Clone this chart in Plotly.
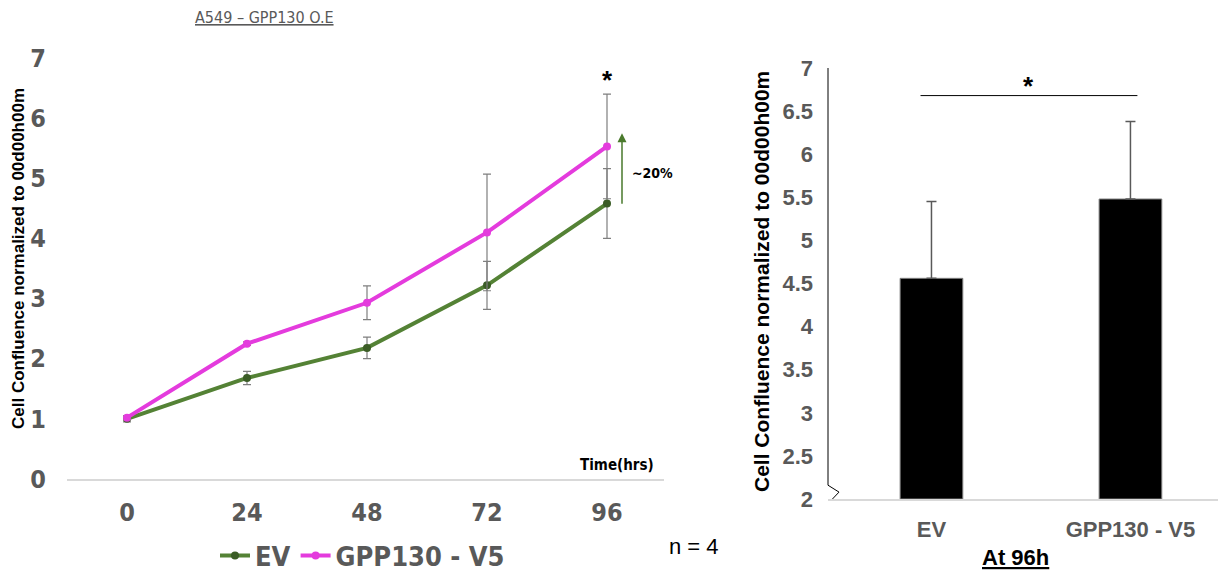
import plotly.graph_objects as go

# ---- data ----
hours = [0, 24, 48, 72, 96]
ev_vals = [1.0, 1.68, 2.18, 3.22, 4.58]
ev_err = [0.05, 0.11, 0.18, 0.40, 0.58]
gpp_vals = [1.02, 2.25, 2.93, 4.10, 5.53]
gpp_err = [0.03, 0.03, 0.28, 0.97, 0.87]

bar_cats = ["EV", "GPP130 - V5"]
bar_pos = [0, 1]
bar_vals = [4.56, 5.48]
bar_err = [0.89, 0.90]

left_ticks = [0, 1, 2, 3, 4, 5, 6, 7]
right_ticks = [2, 2.5, 3, 3.5, 4, 4.5, 5, 5.5, 6, 6.5, 7]

W, H = 1218, 575
NARROW = "Liberation Sans Narrow, Arial Narrow, DejaVu Sans Condensed, sans-serif"
ARIAL = "Liberation Sans, Arial, sans-serif"
GRAY = "#595959"
GREEN = "#548235"
GREEN_DK = "#3b5d26"
MAGENTA = "#E43BDD"

def px(x):
    return x / W

def py(y):
    return 1 - y / H

def b(s):
    return "<b>%s</b>" % s

fig = go.Figure()

fig.add_trace(go.Scatter(
    x=hours, y=ev_vals, name=b("EV"), mode="lines+markers",
    line=dict(color=GREEN, width=4),
    marker=dict(color=GREEN_DK, size=8),
    error_y=dict(type="data", array=ev_err, color="#7f7f7f", thickness=1.2, width=4),
    xaxis="x", yaxis="y",
))
fig.add_trace(go.Scatter(
    x=hours, y=gpp_vals, name=b("GPP130 - V5"), mode="lines+markers",
    line=dict(color=MAGENTA, width=4),
    marker=dict(color=MAGENTA, size=8),
    error_y=dict(type="data", array=gpp_err, color="#7f7f7f", thickness=1.2, width=4),
    xaxis="x", yaxis="y",
))

fig.add_trace(go.Bar(
    x=bar_pos, y=[v - 2 for v in bar_vals], base=2, width=0.315,
    marker=dict(color="black", line=dict(color="#7f7f7f", width=1)),
    error_y=dict(type="data", symmetric=False, array=bar_err, arrayminus=[0, 0],
                 color=GRAY, thickness=1.5, width=5),
    showlegend=False, xaxis="x2", yaxis="y2",
))

fig.update_layout(
    width=W, height=H,
    margin=dict(l=0, r=0, t=0, b=0, autoexpand=False),
    paper_bgcolor="white", plot_bgcolor="white",
    showlegend=True,
    legend=dict(
        orientation="h", x=px(215), y=py(556), xanchor="left", yanchor="middle",
        xref="container", yref="container",
        font=dict(family=NARROW, size=27, color=GRAY),
        itemwidth=30, tracegroupgap=0, bgcolor="rgba(0,0,0,0)",
    ),
    xaxis=dict(
        domain=[px(67), px(664)], range=[-12, 107.4],
        tickvals=hours, ticktext=[b(h) for h in hours],
        showgrid=False, zeroline=False, showline=True, linecolor="#d9d9d9", linewidth=1.5,
        ticks="", ticklabelstandoff=10, automargin=False,
        tickfont=dict(family=NARROW, size=25, color=GRAY),
        anchor="y",
    ),
    yaxis=dict(
        domain=[py(479), py(58)], range=[0, 7],
        tickvals=left_ticks, ticktext=[b(t) for t in left_ticks],
        showgrid=False, zeroline=False, showline=False,
        ticks="", ticklabelstandoff=20, automargin=False,
        tickfont=dict(family=NARROW, size=25, color=GRAY),
        anchor="x",
    ),
    xaxis2=dict(
        domain=[px(828), 1.0], range=[-0.52, 1.44],
        tickvals=bar_pos, ticktext=[b(c) for c in bar_cats],
        showgrid=False, zeroline=False, showline=True, linecolor="#d9d9d9", linewidth=1.5,
        ticks="", ticklabelstandoff=10, automargin=False,
        tickfont=dict(family=ARIAL, size=22, color=GRAY),
        anchor="y2",
    ),
    yaxis2=dict(
        domain=[py(499), py(68)], range=[2, 7],
        tickvals=right_ticks, ticktext=[b("%g" % t) for t in right_ticks],
        showgrid=False, zeroline=False, showline=False,
        ticks="", ticklabelstandoff=14, automargin=False,
        tickfont=dict(family=ARIAL, size=22, color=GRAY),
        anchor="x2",
    ),
)

# right y axis line with break
fig.add_shape(type="line", xref="x2 domain", yref="y2", x0=0, x1=0, y0=2.16, y1=7.05,
              line=dict(color="black", width=1))
fig.add_shape(type="path", xref="x2", yref="y2", xsizemode="pixel", xanchor=-0.52,
              path="M 0,2.16 L 11,2.08 L 2,1.97", line=dict(color="black", width=1))

# significance bar on right
fig.add_shape(type="line", xref="x2", yref="y2", x0=-0.055, x1=1.035, y0=6.68, y1=6.68,
              line=dict(color="black", width=1))

def ann(text, x, y, size, family=ARIAL, color="black", angle=0, xanchor="center"):
    return dict(text=text, x=px(x), y=py(y), xref="paper", yref="paper",
                xanchor=xanchor, yanchor="middle", textangle=angle, showarrow=False,
                font=dict(family=family, size=size, color=color))

annotations = [
    ann("<u>A549 – GPP130 O.E</u>", 264, 18, 16, family=NARROW, color=GRAY),
    ann(b("Cell Confluence normalized to 00d00h00m"), 18, 259, 17, angle=-90),
    ann(b("Cell Confluence normalized to 00d00h00m"), 761, 282, 21, angle=-90),
    ann(b("Time(hrs)"), 617, 465, 15, family=NARROW),
    ann("n = 4", 694, 546, 22),
    ann(b("<u>At 96h</u>"), 1015, 557, 22),
    dict(text=b("*"), x=96, y=6.64, xref="x", yref="y", showarrow=False,
         xanchor="center", yanchor="middle",
         font=dict(family=ARIAL, size=26, color="black")),
    dict(text=b("*"), x=0.49, y=6.79, xref="x2", yref="y2", showarrow=False,
         xanchor="center", yanchor="middle",
         font=dict(family=ARIAL, size=26, color="black")),
    dict(text="", x=99, y=5.75, ax=99, ay=4.55, xref="x", yref="y", axref="x", ayref="y",
         showarrow=True, arrowhead=2, arrowsize=1.2, arrowwidth=1.5, arrowcolor="#4a7a2c"),
    dict(text=b("~20%"), x=100.5, y=5.08, xref="x", yref="y", xanchor="left",
         yanchor="middle", showarrow=False,
         font=dict(family=NARROW, size=14, color="black")),
]
fig.update_layout(annotations=annotations)

fig.write_html("out.html")
